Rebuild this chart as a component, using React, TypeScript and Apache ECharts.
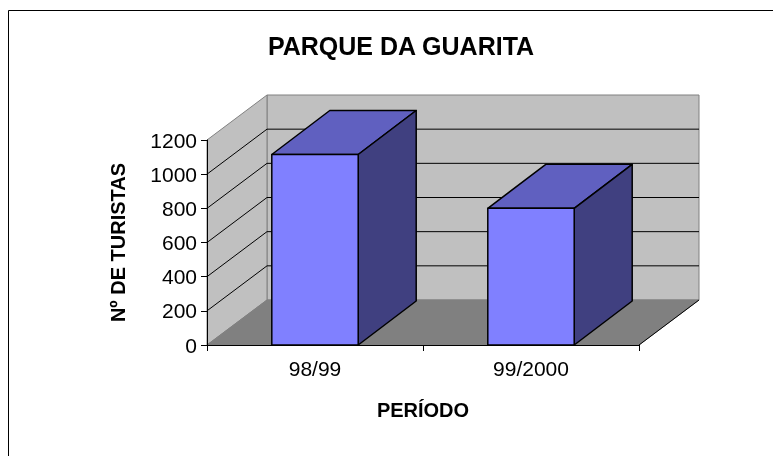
import React, { useEffect, useRef } from "react";
import * as echarts from "echarts";

const categories = ["98/99", "99/2000"];
const visitors = [1115, 800];
const yTicks = [0, 200, 400, 600, 800, 1000, 1200];
const titleText = "PARQUE DA GUARITA";
const xTitle = "PERÍODO";
const yTitle = "Nº DE TURISTAS";

const FONT = "'Liberation Sans', Arial, sans-serif";
const DX = 60;
const DY = -45;
const BAR_DX = 58;
const BAR_DY = -44;
const BAR_RATIO = 0.4;

export default function App() {
  const ref = useRef<HTMLDivElement>(null);
  useEffect(() => {
    const chart = echarts.init(ref.current!, null, { renderer: "svg" });
    const yMax = yTicks[yTicks.length - 1];
    const interval = yTicks[1] - yTicks[0];

    const wallsSeries = {
      type: "custom",
      z: 1,
      silent: true,
      data: [[0, 0]],
      renderItem: (_params: any, api: any) => {
        const bw = api.size([1, 0])[0];
        const o = api.coord([0, 0]);
        const xL = o[0] - bw / 2;
        const xR = xL + bw * categories.length;
        const yB = o[1];
        const yT = api.coord([0, yMax])[1];
        const children: any[] = [];
        children.push({
          type: "polygon",
          shape: { points: [[xL + DX, yT + DY], [xR + DX, yT + DY], [xR + DX, yB + DY], [xL + DX, yB + DY]] },
          style: { fill: "#C0C0C0", stroke: "#808080", lineWidth: 1 },
        });
        children.push({
          type: "polygon",
          shape: { points: [[xL, yB], [xL, yT], [xL + DX, yT + DY], [xL + DX, yB + DY]] },
          style: { fill: "#C0C0C0", stroke: "#808080", lineWidth: 1 },
        });
        children.push({
          type: "polygon",
          shape: { points: [[xL, yB], [xL + DX, yB + DY], [xR + DX, yB + DY], [xR, yB]] },
          style: { fill: "#808080", stroke: "#808080", lineWidth: 1 },
        });
        children.push({
          type: "line",
          shape: { x1: xR, y1: yB, x2: xR + DX, y2: yB + DY },
          style: { stroke: "#000", lineWidth: 1 },
        });
        yTicks.forEach((v) => {
          if (v <= 0 || v >= yMax) return;
          const y = api.coord([0, v])[1];
          children.push({
            type: "line",
            shape: { x1: xL, y1: y, x2: xL + DX, y2: y + DY },
            style: { stroke: "#000", lineWidth: 1 },
          });
          children.push({
            type: "line",
            shape: { x1: xL + DX, y1: y + DY, x2: xR + DX, y2: y + DY },
            style: { stroke: "#000", lineWidth: 1 },
          });
        });
        return { type: "group", children };
      },
    };

    const barsSeries = {
      type: "custom",
      z: 3,
      data: categories.map((_c, i) => [i, visitors[i]]),
      renderItem: (_params: any, api: any) => {
        const x = api.value(0);
        const v = api.value(1);
        const top = api.coord([x, v]);
        const base = api.coord([x, 0]);
        const bw = api.size([1, 0])[0] * BAR_RATIO;
        const l = top[0] - bw / 2;
        const r = top[0] + bw / 2;
        const t = top[1];
        const b = base[1];
        const stroke = { stroke: "#000", lineWidth: 1.5, lineJoin: "round" };
        return {
          type: "group",
          children: [
            {
              type: "polygon",
              shape: { points: [[l, t], [l + BAR_DX, t + BAR_DY], [r + BAR_DX, t + BAR_DY], [r, t]] },
              style: { fill: "#6060C0", ...stroke },
            },
            {
              type: "polygon",
              shape: { points: [[r, b], [r, t], [r + BAR_DX, t + BAR_DY], [r + BAR_DX, b + BAR_DY]] },
              style: { fill: "#404080", ...stroke },
            },
            {
              type: "polygon",
              shape: { points: [[l, b], [l, t], [r, t], [r, b]] },
              style: { fill: "#8080FF", ...stroke },
            },
          ],
        };
      },
    };

    chart.setOption({
      animation: false,
      title: {
        text: titleText,
        left: 396,
        top: 28,
        textAlign: "center",
        textStyle: { fontFamily: FONT, fontSize: 25, fontWeight: "bold", color: "#000" },
      },
      graphic: [
        {
          type: "rect",
          shape: { x: 8.5, y: 10.5, width: 800, height: 500 },
          style: { fill: "none", stroke: "#000", lineWidth: 1 },
          silent: true,
        },
      ],
      grid: { left: 207, right: 134, top: 140, bottom: 111, containLabel: false },
      xAxis: {
        type: "category",
        data: categories,
        boundaryGap: true,
        z: 10,
        axisLine: { show: true, lineStyle: { color: "#000", width: 1 } },
        axisTick: { show: true, length: 6, alignWithLabel: false, lineStyle: { color: "#000" } },
        axisLabel: { color: "#000", fontSize: 21, fontFamily: FONT, margin: 13 },
        name: xTitle,
        nameLocation: "middle",
        nameGap: 55,
        nameTextStyle: { color: "#000", fontSize: 20, fontWeight: "bold", fontFamily: FONT },
      },
      yAxis: {
        type: "value",
        min: 0,
        max: yMax,
        interval,
        z: 10,
        axisLine: { show: true, lineStyle: { color: "#000", width: 1 } },
        axisTick: { show: true, length: 6, lineStyle: { color: "#000" } },
        axisLabel: {
          color: "#000",
          fontSize: 21,
          fontFamily: FONT,
          margin: 10,
          formatter: (v: number) => String(v),
        },
        splitLine: { show: false },
        name: yTitle,
        nameLocation: "middle",
        nameGap: 79,
        nameTextStyle: { color: "#000", fontSize: 20, fontWeight: "bold", fontFamily: FONT },
      },
      series: [wallsSeries, barsSeries],
    });
    return () => chart.dispose();
  }, []);
  return <div ref={ref} style={{ position: "fixed", left: 0, top: 0, width: 773, height: 456 }} />;
}
